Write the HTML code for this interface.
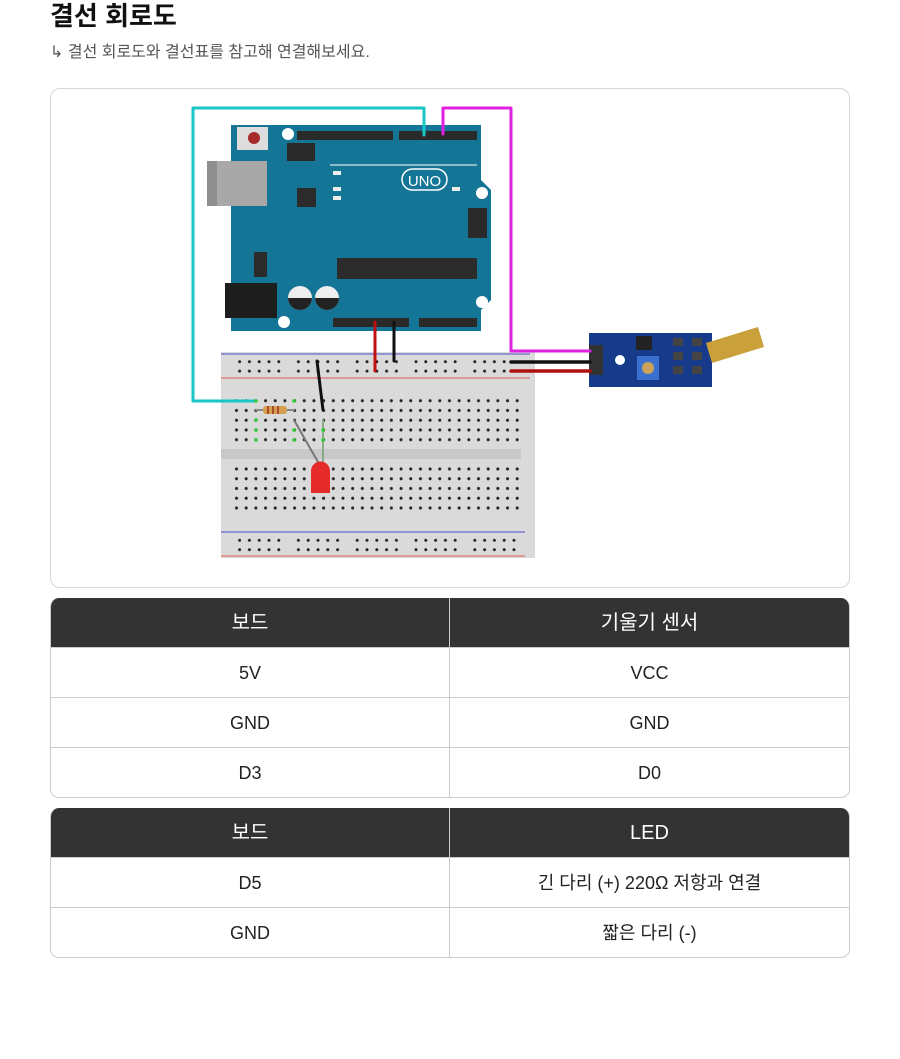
<!DOCTYPE html>
<html><head><meta charset="utf-8">
<style>
*{margin:0;padding:0;box-sizing:border-box}
body{width:900px;height:1059px;background:#fff;font-family:"Liberation Sans","Noto Sans CJK KR",sans-serif;position:relative;overflow:hidden}
h1{position:absolute;left:50px;top:-4px;font-size:26px;font-weight:bold;color:#111}
.sub{position:absolute;left:50px;top:38px;font-size:16px;color:#555}
.box{position:absolute;left:50px;top:88px;width:800px;height:500px;border:1px solid #d6d6d6;border-radius:10px}
table{position:absolute;left:50px;width:800px;border-collapse:separate;border-spacing:0;font-size:18px;color:#222}
td,th{height:50px;line-height:20px;vertical-align:middle;text-align:center;border-right:1px solid #ccc;border-bottom:1px solid #ccc;width:400px}
td:first-child,th:first-child{border-left:1px solid #ccc}
th{background:#333;color:#fff;font-weight:normal;font-size:20px;height:50px}
tr:first-child th:first-child{border-top-left-radius:9px}
tr:first-child th:last-child{border-top-right-radius:9px}
tr:last-child td:first-child{border-bottom-left-radius:9px}
tr:last-child td:last-child{border-bottom-right-radius:9px}
</style></head><body>
<h1>결선 회로도</h1>
<div class="sub">↳ 결선 회로도와 결선표를 참고해 연결해보세요.</div>
<div class="box"></div>
<svg style="position:absolute;left:0;top:0" width="900" height="600" viewBox="0 0 900 600">
<defs>
<pattern id="hm" patternUnits="userSpaceOnUse" x="232" y="396" width="9.68" height="9.75"><circle cx="4.5" cy="4.7" r="1.5" fill="#222"/></pattern>
<pattern id="hr" patternUnits="userSpaceOnUse" x="235" y="357" width="9.8" height="9.4"><circle cx="4.6" cy="4.7" r="1.5" fill="#222"/></pattern>
</defs>
<rect x="221" y="352" width="314" height="206" fill="#dadada"/>
<line x1="221" y1="354" x2="530" y2="354" stroke="#6a6ad0" stroke-width="1.2"/>
<line x1="221" y1="378" x2="530" y2="378" stroke="#e07070" stroke-width="1.2"/>
<line x1="221" y1="532" x2="525" y2="532" stroke="#6a6ad0" stroke-width="1.2"/>
<line x1="221" y1="556" x2="525" y2="556" stroke="#e07070" stroke-width="1.2"/>
<rect x="221" y="449" width="300" height="10" fill="#c8c8c8"/>
<g fill="url(#hr)">
<rect x="235" y="357" width="49" height="19"/><rect x="293" y="357" width="49" height="19"/><rect x="351" y="357" width="49" height="19"/><rect x="409" y="357" width="49" height="19"/><rect x="467" y="357" width="49" height="19"/>
<rect x="235" y="534" width="49" height="19"/><rect x="293" y="534" width="49" height="19"/><rect x="351" y="534" width="49" height="19"/><rect x="409" y="534" width="49" height="19"/><rect x="467" y="534" width="49" height="19"/>
</g>
<rect x="232" y="396" width="290.4" height="48.75" fill="url(#hm)"/>
<rect x="232" y="464.5" width="290.4" height="48.75" fill="url(#hm)"/>
<path d="M231 125 H481 L481 180 L491 190 V300 L481 310 V331 H231 Z" fill="#147596"/>
<rect x="207" y="161" width="60" height="45" fill="#a8a8a8"/><rect x="207" y="161" width="10" height="45" fill="#8f8f8f"/>
<rect x="225" y="283" width="52" height="35" fill="#1d1d1d"/>
<rect x="237" y="127" width="31" height="23" fill="#ddd"/><circle cx="254" cy="138" r="6" fill="#a52a2a"/>
<rect x="287" y="143" width="28" height="18" fill="#2a2a2a"/>
<rect x="297" y="188" width="19" height="19" fill="#2b2b2b"/>
<rect x="254" y="252" width="13" height="25" fill="#2b2b2b"/>
<rect x="337" y="258" width="140" height="21" fill="#2b2b2b"/>
<rect x="297" y="131" width="96" height="9" fill="#2a2a2a"/>
<rect x="399" y="131" width="78" height="9" fill="#2a2a2a"/>
<rect x="333" y="318" width="76" height="9" fill="#2a2a2a"/>
<rect x="419" y="318" width="58" height="9" fill="#2a2a2a"/>
<rect x="468" y="208" width="19" height="30" fill="#2a2a2a"/>
<rect x="402" y="169" width="45" height="21" rx="10.5" fill="none" stroke="#fff" stroke-width="1.5"/>
<text x="424.5" y="186" font-size="15" fill="#fff" text-anchor="middle" font-family="Liberation Sans">UNO</text>
<line x1="330" y1="165" x2="477" y2="165" stroke="#fff" stroke-width="1"/>
<rect x="333" y="171" width="8" height="4" fill="#eee"/><rect x="333" y="187" width="8" height="4" fill="#eee"/><rect x="333" y="196" width="8" height="4" fill="#eee"/><rect x="452" y="187" width="8" height="4" fill="#eee"/>
<circle cx="300" cy="298" r="12" fill="#eee"/><path d="M288 298 A12 12 0 0 0 312 298 Z" fill="#222"/>
<circle cx="327" cy="298" r="12" fill="#eee"/><path d="M315 298 A12 12 0 0 0 339 298 Z" fill="#222"/>
<circle cx="288" cy="134" r="6" fill="#fff"/><circle cx="482" cy="193" r="6" fill="#fff"/><circle cx="482" cy="302" r="6" fill="#fff"/><circle cx="284" cy="322" r="6" fill="#fff"/>
<rect x="589" y="333" width="123" height="54" fill="#173a8a"/>
<circle cx="620" cy="360" r="5" fill="#fff"/>
<rect x="637" y="356" width="22" height="24" fill="#3b6fd0"/><circle cx="648" cy="368" r="6" fill="#c9a55a"/>
<rect x="636" y="336" width="16" height="14" fill="#222"/>
<rect x="673" y="338" width="10" height="8" fill="#444"/><rect x="673" y="352" width="10" height="8" fill="#444"/><rect x="673" y="366" width="10" height="8" fill="#444"/>
<rect x="692" y="338" width="10" height="8" fill="#444"/><rect x="692" y="352" width="10" height="8" fill="#444"/><rect x="692" y="366" width="10" height="8" fill="#444"/>
<rect x="589" y="345" width="14" height="30" fill="#333"/>
<path d="M706 343 L758 327 L764 347 L712 363 Z" fill="#c9a03a"/>
<g fill="none" stroke-linecap="round" stroke-linejoin="round">
<polyline points="424,135 424,108 193,108 193,401 256,401" stroke="#18c6c6" stroke-width="3"/>
<polyline points="443,134 443,108 511,108 511,351 590,351" stroke="#e020e0" stroke-width="3"/>
<line x1="511" y1="362" x2="590" y2="362" stroke="#111" stroke-width="3.5"/>
<line x1="511" y1="371" x2="590" y2="371" stroke="#b01010" stroke-width="3.5"/>
<line x1="375" y1="322" x2="375" y2="371" stroke="#c01010" stroke-width="3"/>
<line x1="394" y1="322" x2="394" y2="361" stroke="#111" stroke-width="3"/>
<line x1="317" y1="361" x2="323" y2="410" stroke="#111" stroke-width="3"/>
<line x1="294" y1="420" x2="318" y2="462" stroke="#777" stroke-width="2"/>
<line x1="323" y1="420" x2="323" y2="462" stroke="#8a8" stroke-width="2"/>
<line x1="256" y1="410" x2="294" y2="410" stroke="#888" stroke-width="2"/>
</g>
<rect x="263" y="406" width="24" height="8" rx="3" fill="#d4a050"/>
<g stroke="#a03020" stroke-width="1.5"><line x1="268" y1="406" x2="268" y2="414"/><line x1="273" y1="406" x2="273" y2="414"/><line x1="278" y1="406" x2="278" y2="414"/></g>
<path d="M311 493 V471 A9.5 9.5 0 0 1 330 471 V493 Z" fill="#e52a2a"/>
<g fill="#3c3"><circle cx="256" cy="401" r="1.8"/><circle cx="256" cy="420" r="1.8"/><circle cx="256" cy="430" r="1.8"/><circle cx="256" cy="440" r="1.8"/><circle cx="294" cy="401" r="1.8"/><circle cx="294" cy="430" r="1.8"/><circle cx="294" cy="440" r="1.8"/><circle cx="323" cy="430" r="1.8"/><circle cx="323" cy="440" r="1.8"/></g>
</svg>
<table style="top:598px">
<tr><th>보드</th><th>기울기 센서</th></tr>
<tr><td>5V</td><td>VCC</td></tr>
<tr><td>GND</td><td>GND</td></tr>
<tr><td>D3</td><td>D0</td></tr>
</table>
<table style="top:808px">
<tr><th>보드</th><th>LED</th></tr>
<tr><td>D5</td><td>긴 다리 (+) 220Ω 저항과 연결</td></tr>
<tr><td>GND</td><td>짧은 다리 (-)</td></tr>
</table>
</body></html>
